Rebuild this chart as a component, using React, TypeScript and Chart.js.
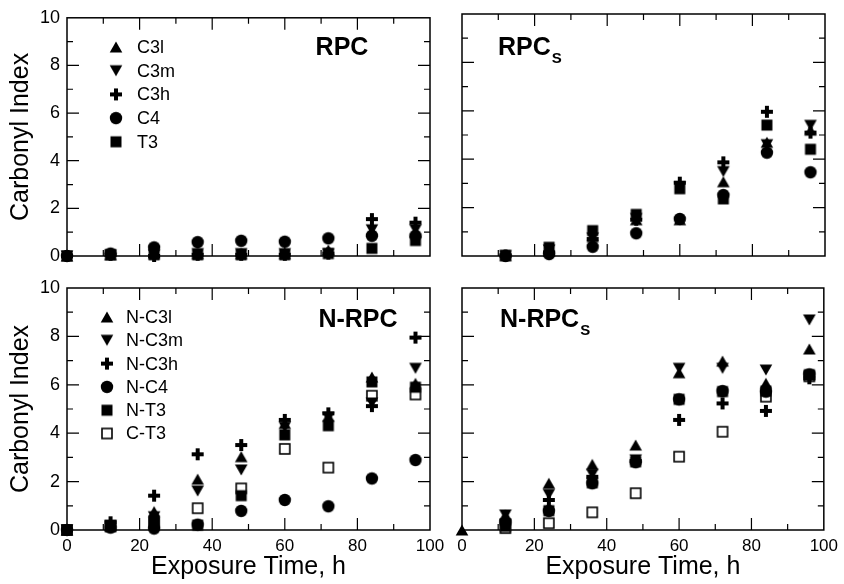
import React, { useEffect, useRef } from 'react';
import { Chart, registerables } from 'chart.js';

Chart.register(...registerables);

const FONT = 'Arial, "Liberation Sans", Helvetica, sans-serif';
Chart.defaults.font.family = FONT;
Chart.defaults.color = '#000';

// ---------- data ----------
const hours = [0, 12, 24, 36, 48, 60, 72, 84, 96];
const xTickLabels = [0, 20, 40, 60, 80, 100];
const yTickLabels = [0, 2, 4, 6, 8, 10];
const xMinorTicks = [10, 20, 30, 40, 50, 60, 70, 80, 90];
const yMinorTicks = [1, 2, 3, 4, 5, 6, 7, 8, 9];

// RPC
const rpcC3l = [0, 0.05, 0.1, 0.1, 0.1, 0.1, 0.25, 1.05, 1.0];
const rpcC3m = [0, 0.05, 0.05, 0.1, 0.1, 0.1, 0.1, 1.1, 1.1];
const rpcC3h = [0, 0.05, 0.0, 0.05, 0.05, 0.05, 0.1, 1.55, 1.4];
const rpcC4 = [0, 0.1, 0.36, 0.58, 0.64, 0.6, 0.74, 0.85, 0.85];
const rpcT3 = [0, 0.05, 0.05, 0.05, 0.05, 0.05, 0.1, 0.32, 0.65];

// RPC_S
const rpcsC3l = [null, 0.02, 0.2, 0.8, 1.5, 1.5, 3.07, 4.7, 5.2];
const rpcsC3m = [null, 0.02, 0.25, 0.75, 1.55, 2.85, 3.49, 4.6, 5.4];
const rpcsC3h = [null, 0.02, 0.15, 0.7, 1.5, 3.03, 3.87, 5.96, 5.1];
const rpcsC4 = [null, 0.0, 0.08, 0.38, 0.94, 1.53, 2.52, 4.27, 3.46];
const rpcsT3 = [null, 0.02, 0.36, 1.05, 1.72, 2.78, 2.36, 5.41, 4.41];

// N-RPC
const nrpcC3l = [0, 0.2, 0.76, 2.1, 3.03, 4.4, 4.7, 6.32, 6.06];
const nrpcC3m = [0, 0.2, 0.55, 1.61, 2.48, 4.25, 4.65, 5.25, 6.68];
const nrpcC3h = [0, 0.32, 1.42, 3.13, 3.51, 4.55, 4.82, 5.12, 7.95];
const nrpcC4 = [0, 0.1, 0.06, 0.22, 0.79, 1.24, 0.98, 2.13, 2.89];
const nrpcT3 = [0, 0.15, 0.38, 0.2, 1.42, 3.93, 4.31, 6.12, 5.9];
const nrpcCT3 = [0, 0.15, 0.3, 0.9, 1.72, 3.35, 2.58, 5.55, 5.6];

// N-RPC_S
const nrpcsC3l = [0, 0.62, 1.93, 2.71, 3.51, 6.5, 6.98, 6.06, 7.48];
const nrpcsC3m = [null, 0.62, 1.47, 2.3, 2.9, 6.68, 6.68, 6.61, 8.68];
const nrpcsC3h = [null, 0.4, 1.24, 2.2, 2.85, 4.55, 5.23, 4.92, 6.27];
const nrpcsC4 = [null, 0.3, 0.79, 1.93, 2.8, 5.4, 5.74, 5.72, 6.43];
const nrpcsT3 = [null, 0.15, 0.8, 1.95, 2.82, 5.4, 5.72, 5.74, 6.42];
const nrpcsCT3 = [null, 0.08, 0.28, 0.73, 1.52, 3.03, 4.06, 5.51, 6.35];

// ---------- markers ----------
type MarkerKind = 'triUp' | 'triDown' | 'plus' | 'circle' | 'square' | 'openSquare';

function makeMarker(kind: MarkerKind): HTMLCanvasElement {
  const c = document.createElement('canvas');
  c.width = 16;
  c.height = 16;
  const g = c.getContext('2d')!;
  g.fillStyle = '#000';
  g.strokeStyle = '#000';
  g.beginPath();
  switch (kind) {
    case 'triUp':
      g.moveTo(8, 2.5); g.lineTo(14.3, 13.5); g.lineTo(1.7, 13.5); g.closePath(); g.fill();
      break;
    case 'triDown':
      g.moveTo(1.7, 2.5); g.lineTo(14.3, 2.5); g.lineTo(8, 13.5); g.closePath(); g.fill();
      break;
    case 'plus':
      g.fillRect(6, 2, 4, 12); g.fillRect(2, 6, 12, 4);
      break;
    case 'circle':
      g.arc(8, 8, 6.2, 0, Math.PI * 2); g.fill();
      break;
    case 'square':
      g.fillRect(2.5, 2.5, 11, 11);
      break;
    case 'openSquare':
      g.fillStyle = '#fff'; g.fillRect(3, 3, 10, 10);
      g.lineWidth = 1.6; g.strokeRect(3, 3, 10, 10);
      break;
  }
  return c;
}

// drawing order (higher = drawn earlier / underneath)
const drawOrder: Record<MarkerKind, number> = {
  openSquare: 100,
  square: 90,
  triUp: 5,
  triDown: 4,
  plus: 3,
  circle: 2,
};

type Series = { label: string; marker: MarkerKind; values: (number | null)[] };
type PanelDef = {
  key: string;
  area: { left: number; top: number; right: number; bottom: number };
  title: string;
  sub?: string;
  titleX: number;
  titleY: number;
  titleAlign: CanvasTextAlign;
  xLabels: boolean;
  yLabels: boolean;
  series: Series[];
  legend?: { markerX: number; textX: number; y0: number; dy: number };
};

const W = 844;
const H = 584;

const panels: PanelDef[] = [
  {
    key: 'rpc',
    area: { left: 67, top: 14, right: 430, bottom: 256 },
    title: 'RPC', titleX: 342, titleY: 55, titleAlign: 'center',
    xLabels: false, yLabels: true,
    series: [
      { label: 'C3l', marker: 'triUp', values: rpcC3l },
      { label: 'C3m', marker: 'triDown', values: rpcC3m },
      { label: 'C3h', marker: 'plus', values: rpcC3h },
      { label: 'C4', marker: 'circle', values: rpcC4 },
      { label: 'T3', marker: 'square', values: rpcT3 },
    ],
    legend: { markerX: 116, textX: 137, y0: 47, dy: 23.7 },
  },
  {
    key: 'rpcs',
    area: { left: 462, top: 14, right: 825, bottom: 256 },
    title: 'RPC', sub: 'S', titleX: 498, titleY: 55, titleAlign: 'left',
    xLabels: false, yLabels: false,
    series: [
      { label: 'C3l', marker: 'triUp', values: rpcsC3l },
      { label: 'C3m', marker: 'triDown', values: rpcsC3m },
      { label: 'C3h', marker: 'plus', values: rpcsC3h },
      { label: 'C4', marker: 'circle', values: rpcsC4 },
      { label: 'T3', marker: 'square', values: rpcsT3 },
    ],
  },
  {
    key: 'nrpc',
    area: { left: 67, top: 288, right: 430, bottom: 530 },
    title: 'N-RPC', titleX: 358, titleY: 327, titleAlign: 'center',
    xLabels: true, yLabels: true,
    series: [
      { label: 'N-C3l', marker: 'triUp', values: nrpcC3l },
      { label: 'N-C3m', marker: 'triDown', values: nrpcC3m },
      { label: 'N-C3h', marker: 'plus', values: nrpcC3h },
      { label: 'N-C4', marker: 'circle', values: nrpcC4 },
      { label: 'N-T3', marker: 'square', values: nrpcT3 },
      { label: 'C-T3', marker: 'openSquare', values: nrpcCT3 },
    ],
    legend: { markerX: 107, textX: 126, y0: 317, dy: 23.3 },
  },
  {
    key: 'nrpcs',
    area: { left: 462, top: 288, right: 825, bottom: 530 },
    title: 'N-RPC', sub: 'S', titleX: 500, titleY: 327, titleAlign: 'left',
    xLabels: true, yLabels: false,
    series: [
      { label: 'N-C3l', marker: 'triUp', values: nrpcsC3l },
      { label: 'N-C3m', marker: 'triDown', values: nrpcsC3m },
      { label: 'N-C3h', marker: 'plus', values: nrpcsC3h },
      { label: 'N-C4', marker: 'circle', values: nrpcsC4 },
      { label: 'N-T3', marker: 'square', values: nrpcsT3 },
      { label: 'C-T3', marker: 'openSquare', values: nrpcsCT3 },
    ],
  },
];

function decorPlugin(p: PanelDef, markers: Record<MarkerKind, HTMLCanvasElement>) {
  return {
    id: 'decor_' + p.key,
    beforeDatasetsDraw(chart: any) {
      const ctx: CanvasRenderingContext2D = chart.ctx;
      const a = chart.chartArea;
      const xs = chart.scales.x;
      const ys = chart.scales.y;
      ctx.save();
      ctx.strokeStyle = '#000';
      ctx.lineWidth = 1.5;
      ctx.strokeRect(a.left, a.top, a.right - a.left, a.bottom - a.top);
      ctx.lineWidth = 1.2;
      ctx.beginPath();
      for (const v of xMinorTicks) {
        const px = xs.getPixelForValue(v);
        const len = v % 20 === 0 ? 12 : 6;
        ctx.moveTo(px, a.bottom); ctx.lineTo(px, a.bottom - len);
        ctx.moveTo(px, a.top); ctx.lineTo(px, a.top + len);
      }
      for (const v of yMinorTicks) {
        const py = ys.getPixelForValue(v);
        const len = v % 2 === 0 ? 12 : 6;
        ctx.moveTo(a.left, py); ctx.lineTo(a.left + len, py);
        ctx.moveTo(a.right, py); ctx.lineTo(a.right - len, py);
      }
      ctx.stroke();
      ctx.restore();
    },
    afterDraw(chart: any) {
      const ctx: CanvasRenderingContext2D = chart.ctx;
      ctx.save();
      ctx.fillStyle = '#000';
      ctx.textBaseline = 'alphabetic';
      ctx.font = 'bold 25px ' + FONT;
      ctx.textAlign = p.titleAlign;
      ctx.fillText(p.title, p.titleX, p.titleY);
      if (p.sub) {
        const w = ctx.measureText(p.title).width;
        ctx.font = 'bold 15px ' + FONT;
        ctx.textAlign = 'left';
        ctx.fillText(p.sub, p.titleX + w + 1, p.titleY + 8);
      }
      if (p.legend) {
        const L = p.legend;
        ctx.font = '18px ' + FONT;
        ctx.textAlign = 'left';
        ctx.textBaseline = 'middle';
        p.series.forEach((s, i) => {
          const y = L.y0 + i * L.dy;
          ctx.drawImage(markers[s.marker], L.markerX - 8, y - 8);
          ctx.fillText(s.label, L.textX, y + 1);
        });
      }
      ctx.restore();
    },
  };
}

function buildConfig(p: PanelDef, markers: Record<MarkerKind, HTMLCanvasElement>): any {
  const a = p.area;
  return {
    type: 'scatter',
    data: {
      datasets: p.series.map((s) => ({
        label: s.label,
        data: hours
          .map((h, i) => ({ x: h, y: s.values[i] }))
          .filter((d) => d.y !== null && d.y !== undefined),
        pointStyle: markers[s.marker],
        pointRadius: 6,
        pointHoverRadius: 6,
        clip: false,
        showLine: false,
        order: drawOrder[s.marker],
      })),
    },
    options: {
      responsive: false,
      animation: false,
      events: [],
      layout: {
        padding: {
          left: p.yLabels ? 0 : a.left,
          top: a.top,
          right: W - a.right,
          bottom: p.xLabels ? 0 : H - a.bottom,
        },
      },
      plugins: { legend: { display: false }, tooltip: { enabled: false } },
      scales: {
        x: {
          type: 'linear',
          min: 0,
          max: 100,
          display: p.xLabels,
          afterBuildTicks: (scale: any) => {
            scale.ticks = xTickLabels.map((v) => ({ value: v }));
          },
          ticks: { color: '#000', font: { size: 17, family: FONT }, padding: 6, maxRotation: 0, autoSkip: false },
          grid: { display: false, drawTicks: false },
          border: { display: false },
          title: {
            display: true,
            text: 'Exposure Time, h',
            color: '#000',
            font: { size: 25, family: FONT },
            padding: { top: 0, bottom: 2 },
          },
          afterFit: (scale: any) => {
            if (p.xLabels) scale.height = H - a.bottom;
          },
        },
        y: {
          type: 'linear',
          min: 0,
          max: 10,
          display: p.yLabels,
          afterBuildTicks: (scale: any) => {
            scale.ticks = yTickLabels.map((v) => ({ value: v }));
          },
          ticks: { color: '#000', font: { size: 18, family: FONT }, padding: 7 },
          grid: { display: false, drawTicks: false },
          border: { display: false },
          title: {
            display: true,
            text: 'Carbonyl Index',
            color: '#000',
            font: { size: 25, family: FONT },
            padding: { top: 6, bottom: 0 },
          },
          afterFit: (scale: any) => {
            if (p.yLabels) scale.width = a.left;
          },
        },
      },
    },
    plugins: [decorPlugin(p, markers)],
  };
}

function PanelChart({ def }: { def: PanelDef }) {
  const ref = useRef<HTMLCanvasElement | null>(null);
  useEffect(() => {
    const markers = {
      triUp: makeMarker('triUp'),
      triDown: makeMarker('triDown'),
      plus: makeMarker('plus'),
      circle: makeMarker('circle'),
      square: makeMarker('square'),
      openSquare: makeMarker('openSquare'),
    } as Record<MarkerKind, HTMLCanvasElement>;
    const chart = new Chart(ref.current!, buildConfig(def, markers));
    return () => chart.destroy();
  }, [def]);
  return (
    <canvas
      ref={ref}
      width={W}
      height={H}
      style={{ position: 'absolute', left: 0, top: 0, width: W, height: H }}
    />
  );
}

export default function App() {
  return (
    <div
      style={{
        position: 'fixed',
        left: 0,
        top: 0,
        width: W,
        height: H,
        background: '#fff',
        overflow: 'hidden',
      }}
    >
      {panels.map((p) => (
        <PanelChart key={p.key} def={p} />
      ))}
    </div>
  );
}
